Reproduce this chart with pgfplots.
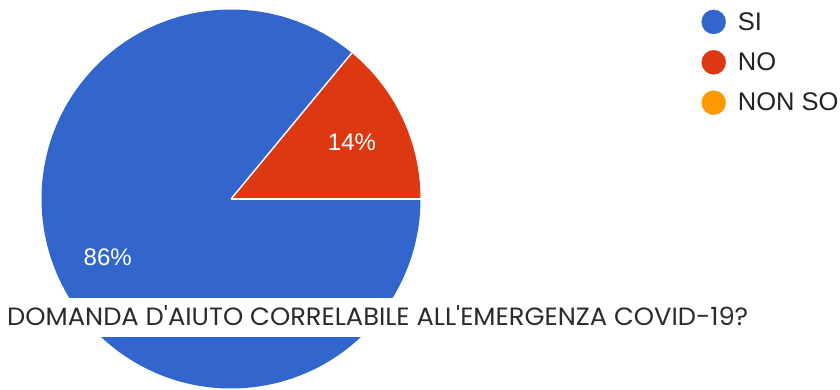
\documentclass[border=0pt]{standalone}
\usepackage{pgfplots}
\pgfplotsset{compat=1.18}
\usepackage{pgfplotstable}
\usepackage{fontspec}
\setmainfont{Liberation Sans}
\newfontfamily\titlefont{Poppins}[Ligatures=TeXOff]
\definecolor{cSI}{HTML}{3366CC}
\definecolor{cNO}{HTML}{DC3912}
\definecolor{cNS}{HTML}{FF9900}
\definecolor{ctext}{HTML}{222222}
\definecolor{ctitle}{HTML}{2B2B2B}

\pgfplotstableread{
label value
SI 86
NO 14
NONSO 0
}\piedata

\begin{document}
\begin{tikzpicture}
\pgfplotstablegetelem{1}{value}\of\piedata
\pgfmathsetmacro\aNO{\pgfplotsretval/100*360}
\path[use as bounding box] (0,0) rectangle (840pt,389pt);
\clip (0,0) rectangle (840pt,389pt);
\begin{axis}[
  x=1pt, y=1pt, xmin=0, xmax=840, ymin=0, ymax=389,
  hide axis, at={(0,0)}, anchor=south west, clip=false,
  legend cell align=left,
  legend image code/.code={\fill[#1] (0pt,0pt) circle (12pt);},
  legend style={at={(axis cs:701.5,379.3)}, anchor=north west,
    draw=none, fill=none, inner sep=0pt, outer sep=0pt,
    row sep=16pt, column sep=12pt,
    font=\fontsize{25.5}{25.5}\selectfont,
    nodes={inner sep=0pt, text=ctext}},
]
\addlegendimage{cSI}\addlegendentry{SI}
\addlegendimage{cNO}\addlegendentry{NO}
\addlegendimage{cNS}\addlegendentry{NON SO}

% pie slices
\fill[cSI] (axis cs:231,190) -- ++(\aNO:189.5pt) arc[start angle=\aNO, end angle=360, radius=189.5pt] -- cycle;
\fill[cNO] (axis cs:231,190) -- ++(0:189.5pt) arc[start angle=0, end angle=\aNO, radius=189.5pt] -- cycle;
\draw[white, line width=1.4pt] (axis cs:231,190) -- ++(0:189.5pt);
\draw[white, line width=1.4pt] (axis cs:231,190) -- ++(\aNO:189.5pt);

\node[white, inner sep=0pt, font=\fontsize{24}{24}\selectfont] at (axis cs:352,247) {14\%};
\node[white, inner sep=0pt, font=\fontsize{24}{24}\selectfont] at (axis cs:107.7,131.5) {86\%};

% title band
\fill[white] (axis cs:0,52) rectangle (axis cs:430,91);
\node[anchor=base west, inner sep=0pt, xscale=1.03, text=ctitle, font=\titlefont\fontsize{25}{25}\selectfont] at (axis cs:7,64) {DOMANDA D'AIUTO CORRELABILE ALL'EMERGENZA COVID-19?};
\end{axis}
\end{tikzpicture}
\end{document}
